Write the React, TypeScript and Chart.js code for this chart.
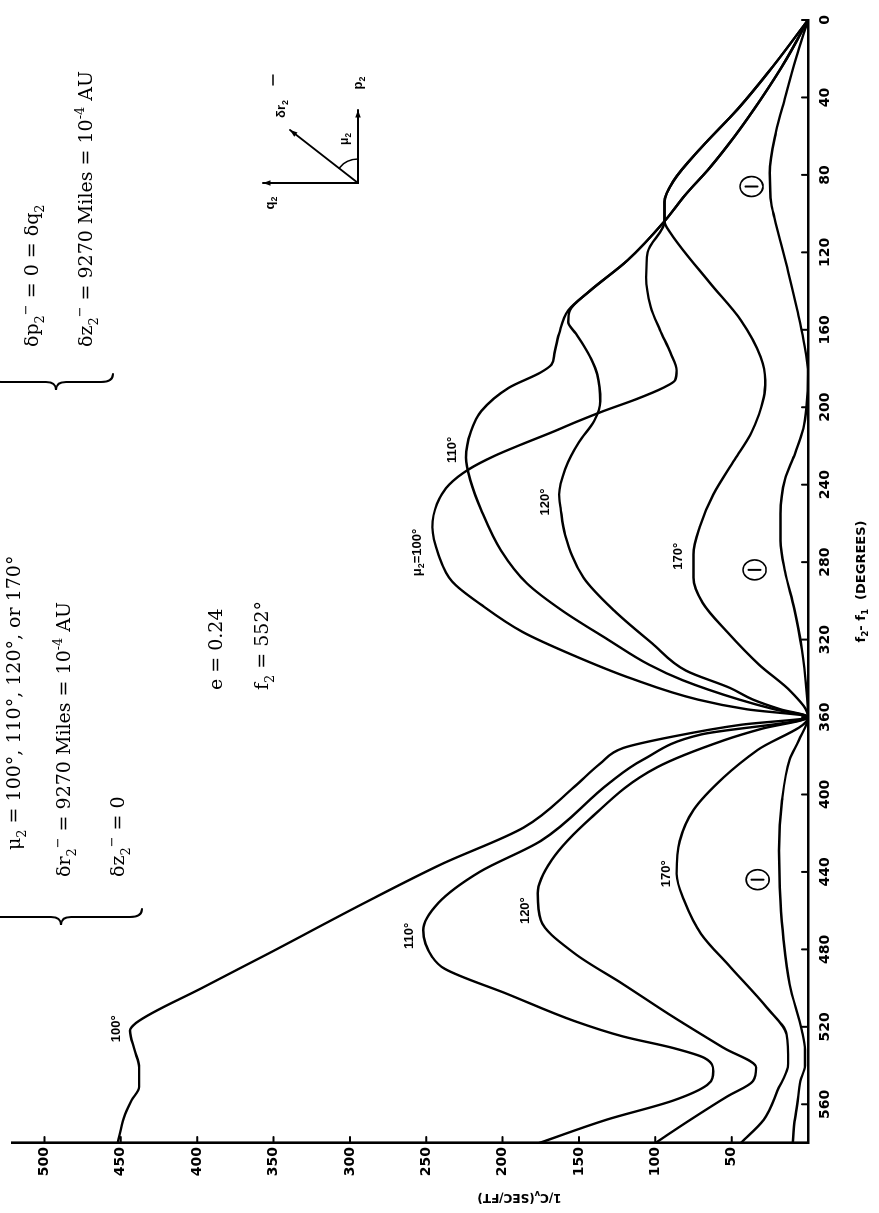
import React, { useEffect, useRef } from "react";
import { Chart, registerables } from "chart.js";

Chart.register(...registerables);

// ---------------- data (f2 - f1 in degrees, 1/Cv in sec/ft) ----------------
const X_TICKS = [0, 40, 80, 120, 160, 200, 240, 280, 320, 360, 400, 440, 480, 520, 560];
const Y_TICKS = [50, 100, 150, 200, 250, 300, 350, 400, 450, 500];

const F_100 = [0, 24, 46, 66, 83, 94, 104, 120, 133, 148, 160, 172, 181, 186, 190, 196, 202, 207, 213, 219, 225, 232, 240, 250, 262, 276, 290, 302, 316, 328, 340, 351, 356, 360, 364, 370, 376, 384, 396, 417, 436, 455, 482, 500, 518, 522, 532, 541, 551, 558, 567, 580];
const V_100 = [0, 23, 46, 70, 88, 94, 94, 105, 106, 103, 97, 90, 86, 87, 95, 113, 134, 150, 168, 187, 205, 222, 235, 243, 246, 242, 233, 214, 187, 154, 116, 72, 40, 0, 44, 88, 121, 136, 153, 186, 240, 288, 353, 397, 440, 444, 441, 438, 438, 443, 448, 452];

const F_110 = [0, 20, 41, 60, 76, 90, 104, 124, 140, 150, 162, 172, 178, 182, 190, 202, 213, 226, 238, 253, 274, 291, 305, 320, 333, 341, 351, 356, 360, 369, 382, 394, 424, 440, 456, 470, 484, 490, 503, 517, 525, 531, 536, 543, 550, 558, 568, 580];
const V_110 = [0, 14, 31, 48, 64, 80, 94, 118, 143, 157, 163, 166, 168, 175, 196, 214, 221, 224, 221, 214, 201, 184, 161, 131, 104, 82, 45, 22, 0, 70, 108, 130, 175, 215, 242, 252, 246, 238, 197, 153, 121, 88, 68, 62, 66, 88, 132, 176];

const F_120 = [0, 20, 41, 60, 76, 90, 104, 124, 140, 150, 156, 162, 168, 175, 183, 197, 207, 218, 232, 245, 252, 266, 288, 305, 322, 336, 345, 351, 356, 360, 366, 372, 386, 412, 434, 451, 465, 482, 498, 515, 531, 541, 548, 556, 568, 580];
const V_120 = [0, 14, 31, 48, 64, 80, 94, 118, 143, 156, 157, 152, 147, 142, 138, 136, 140, 150, 159, 163, 162, 159, 147, 127, 102, 80, 51, 36, 18, 0, 30, 55, 99, 142, 168, 177, 175, 153, 121, 88, 55, 34, 36, 53, 77, 100];

const F_170 = [0, 24, 46, 66, 83, 94, 104, 110, 136, 155, 174, 186, 195, 213, 227, 245, 262, 276, 288, 301, 316, 333, 347, 360, 377, 391, 408, 424, 441, 455, 472, 489, 510, 524, 539, 553, 568, 580];
const V_170 = [0, 23, 46, 70, 88, 94, 94, 90, 64, 44, 31, 28, 29, 37, 48, 62, 71, 75, 75, 69, 53, 32, 11, 0, 33, 55, 75, 84, 86, 81, 70, 51, 27, 14, 13, 20, 29, 44];

// out-of-plane case (curve marked with circled 1)
const F_Z = [0, 20, 40, 58, 79, 95, 102, 130, 150, 165, 183, 200, 211, 225, 237, 255, 269, 285, 304, 325, 346, 360, 372, 382, 403, 429, 455, 475, 498, 522, 532, 540, 548, 560, 570, 580];
const V_Z = [0, 8, 15, 21, 25, 24, 22, 13, 7, 3, 0, 1, 3, 9, 15, 18, 18, 15, 9, 4, 1, 0, 6, 12, 17, 19, 18, 16, 12, 4, 2, 2, 5, 7, 9, 10];

// curve labels placed at (f, value)
const CURVE_LABELS: { text: string; f: number; v: number }[] = [
  { text: "100°", f: 521, v: 453 },
  { text: "110°", f: 473, v: 261 },
  { text: "120°", f: 460, v: 185 },
  { text: "170°", f: 441, v: 93 },
  { text: "110°", f: 222, v: 233 },
  { text: "120°", f: 249, v: 172 },
  { text: "170°", f: 277, v: 85 },
];
const CIRCLED_ONE = [
  { f: 86, v: 37 },
  { f: 284, v: 35 },
  { f: 444, v: 33 },
];

// ---------------- layout ----------------
const W = 1213;
const H = 879;
const SANS = "'DejaVu Sans', 'Liberation Sans', sans-serif";
const LSANS = "'Liberation Sans', Arial, sans-serif";
const SERIF = "'DejaVu Serif', 'Liberation Serif', serif";

type Part = [string, ("n" | "sub" | "sup")?];

function richWidth(ctx: CanvasRenderingContext2D, parts: Part[], size: number, family: string, weight: string) {
  let w = 0;
  for (const [t, m = "n"] of parts) {
    const s = m === "n" ? size : size * 0.68;
    ctx.font = `${weight} ${s}px ${family}`;
    w += ctx.measureText(t).width;
  }
  return w;
}

function drawRich(ctx: CanvasRenderingContext2D, x: number, y: number, parts: Part[], size: number, family: string, weight = "normal", align: "left" | "center" = "left") {
  let cx = x;
  if (align === "center") cx = x - richWidth(ctx, parts, size, family, weight) / 2;
  ctx.textAlign = "left";
  for (const [t, m = "n"] of parts) {
    const s = m === "n" ? size : size * 0.68;
    ctx.font = `${weight} ${s}px ${family}`;
    const dy = m === "sub" ? size * 0.32 : m === "sup" ? -size * 0.42 : 0;
    ctx.fillText(t, cx, y + dy);
    cx += ctx.measureText(t).width;
  }
}

function brace(ctx: CanvasRenderingContext2D, x: number, y0: number, y1: number, ym: number, d: number, e: number) {
  ctx.beginPath();
  ctx.moveTo(x + e, y0);
  ctx.quadraticCurveTo(x, y0, x, y0 + 12);
  ctx.lineTo(x, ym - 10);
  ctx.quadraticCurveTo(x, ym, x - d, ym);
  ctx.quadraticCurveTo(x, ym, x, ym + 10);
  ctx.lineTo(x, y1 - 12);
  ctx.quadraticCurveTo(x, y1, x + e, y1);
  ctx.stroke();
}

function arrow(ctx: CanvasRenderingContext2D, x0: number, y0: number, x1: number, y1: number) {
  ctx.beginPath();
  ctx.moveTo(x0, y0);
  ctx.lineTo(x1, y1);
  ctx.stroke();
  const a = Math.atan2(y1 - y0, x1 - x0);
  const L = 8;
  ctx.beginPath();
  ctx.moveTo(x1, y1);
  ctx.lineTo(x1 - L * Math.cos(a - 0.35), y1 - L * Math.sin(a - 0.35));
  ctx.lineTo(x1 - L * Math.cos(a + 0.35), y1 - L * Math.sin(a + 0.35));
  ctx.closePath();
  ctx.fill();
}

const decor = {
  id: "decor",
  afterDraw(chart: any) {
    const { ctx, chartArea } = chart;
    const xs = chart.scales.x;
    const ys = chart.scales.y;
    ctx.save();
    ctx.fillStyle = "#000";
    ctx.strokeStyle = "#000";
    ctx.lineCap = "round";

    // inward tick marks
    ctx.lineWidth = 2;
    for (const v of X_TICKS) {
      const px = xs.getPixelForValue(v);
      ctx.beginPath();
      ctx.moveTo(px, chartArea.bottom);
      ctx.lineTo(px, chartArea.bottom - 6);
      ctx.stroke();
    }
    for (const v of Y_TICKS) {
      const py = ys.getPixelForValue(v);
      ctx.beginPath();
      ctx.moveTo(chartArea.left, py);
      ctx.lineTo(chartArea.left + 6, py);
      ctx.stroke();
    }

    // axis titles
    ctx.textBaseline = "middle";
    drawRich(ctx, xs.getPixelForValue(290), 862, [["f"], ["2", "sub"], ["- f"], ["1", "sub"], ["  (DEGREES)"]], 13, SANS, "bold", "center");
    ctx.save();
    ctx.translate(16, ys.getPixelForValue(189));
    ctx.rotate(-Math.PI / 2);
    drawRich(ctx, 0, 0, [["1/C"], ["v", "sub"], ["(SEC/FT)"]], 12, SANS, "bold", "center");
    ctx.restore();

    // curve labels
    ctx.textBaseline = "middle";
    for (const l of CURVE_LABELS) {
      drawRich(ctx, xs.getPixelForValue(l.f), ys.getPixelForValue(l.v), [[l.text]], 13, LSANS, "bold", "center");
    }
    drawRich(ctx, xs.getPixelForValue(275), ys.getPixelForValue(256), [["μ"], ["2", "sub"], ["=100°"]], 13, LSANS, "bold", "center");

    // circled 1
    for (const c of CIRCLED_ONE) {
      const px = xs.getPixelForValue(c.f);
      const py = ys.getPixelForValue(c.v);
      ctx.lineWidth = 1.6;
      ctx.beginPath();
      ctx.ellipse(px, py, 10, 11.5, 0, 0, Math.PI * 2);
      ctx.stroke();
      ctx.lineWidth = 2;
      ctx.beginPath();
      ctx.moveTo(px, py - 6);
      ctx.lineTo(px, py + 6);
      ctx.stroke();
    }

    // text blocks
    ctx.textBaseline = "alphabetic";
    ctx.lineWidth = 2;
    const fs = 19;
    drawRich(ctx, 363, 20, [["μ"], ["2", "sub"], [" = 100°, 110°, 120°, or 170°"]], fs, SERIF);
    drawRich(ctx, 336, 70, [["δr"], ["2", "sub"], ["−", "sup"], [" = 9270 Miles = 10"], ["-4", "sup"], [" AU"]], fs, SERIF);
    drawRich(ctx, 336, 124, [["δz"], ["2", "sub"], ["−", "sup"], [" = 0"]], fs, SERIF);
    brace(ctx, 296, -20, 142, 61, 8, 8);

    drawRich(ctx, 866, 38, [["δp"], ["2", "sub"], ["−", "sup"], [" = 0 = δq"], ["2", "sub"]], fs, SERIF);
    drawRich(ctx, 866, 92, [["δz"], ["2", "sub"], ["−", "sup"], [" = 9270 Miles = 10"], ["-4", "sup"], [" AU"]], fs, SERIF);
    brace(ctx, 831, -10, 113, 56, 8, 8);

    drawRich(ctx, 523, 222, [["e = 0.24"]], fs, SERIF);
    drawRich(ctx, 523, 268, [["f"], ["2", "sub"], [" = 552°"]], fs, SERIF);

    // vector diagram
    ctx.lineWidth = 2;
    const ox = 1030, oy = 358;
    arrow(ctx, ox, oy, ox, 263);
    arrow(ctx, ox, oy, 1103, oy);
    arrow(ctx, ox, oy, 1083, 290);
    ctx.lineWidth = 1.5;
    ctx.beginPath();
    ctx.arc(ox, oy, 24, Math.atan2(290 - oy, 1083 - ox), 0);
    ctx.stroke();
    ctx.textBaseline = "middle";
    drawRich(ctx, 1010, 270, [["q"], ["2", "sub"]], 13, LSANS, "bold", "center");
    drawRich(ctx, 1130, 358, [["p"], ["2", "sub"]], 13, LSANS, "bold", "center");
    drawRich(ctx, 1074, 345, [["μ"], ["2", "sub"]], 12, LSANS, "bold", "center");
    drawRich(ctx, 1104, 281, [["δr"], ["2", "sub"]], 13, LSANS, "bold", "center");
    ctx.beginPath();
    ctx.moveTo(1128, 273);
    ctx.lineTo(1138, 273);
    ctx.stroke();

    ctx.restore();
  },
};

function series(F: number[], V: number[]) {
  return {
    data: F.map((f, i) => ({ x: f, y: V[i] })),
    borderColor: "#000",
    borderWidth: 2.4,
    pointRadius: 0,
    fill: false,
    cubicInterpolationMode: "monotone" as const,
  };
}

export default function App() {
  const ref = useRef<HTMLCanvasElement>(null);
  useEffect(() => {
    if (!ref.current) return;
    const chart = new Chart(ref.current, {
      type: "line",
      data: {
        datasets: [
          series(F_100, V_100),
          series(F_110, V_110),
          series(F_120, V_120),
          series(F_170, V_170),
          series(F_Z, V_Z),
        ],
      },
      options: {
        animation: false,
        responsive: false,
        devicePixelRatio: 1,
        layout: { padding: { top: 10, right: 20, left: 0, bottom: 0 } },
        plugins: { legend: { display: false }, tooltip: { enabled: false } },
        scales: {
          x: {
            type: "linear",
            reverse: true,
            min: 0,
            max: 580,
            afterBuildTicks: (s: any) => {
              s.ticks = X_TICKS.map((v) => ({ value: v }));
            },
            afterFit: (s: any) => {
              s.height = 71;
            },
            grid: { display: false, drawTicks: false },
            border: { display: true, color: "#000", width: 2.6 },
            ticks: { padding: 9, color: "#000", autoSkip: false, maxRotation: 0, font: { family: SANS, size: 14, weight: "bold" } },
          },
          y: {
            type: "linear",
            min: 0,
            max: 521,
            afterBuildTicks: (s: any) => {
              s.ticks = Y_TICKS.map((v) => ({ value: v }));
            },
            afterFit: (s: any) => {
              s.width = 70;
            },
            grid: { display: false, drawTicks: false },
            border: { display: true, color: "#000", width: 2.6 },
            ticks: { padding: 4, color: "#000", autoSkip: false, font: { family: SANS, size: 14, weight: "bold" } },
          },
        },
      },
      plugins: [decor],
    } as any);
    return () => chart.destroy();
  }, []);

  return (
    <div style={{ position: "fixed", left: 0, top: 0, width: 879, height: 1213, overflow: "hidden", background: "#fff" }}>
      <div
        style={{
          position: "absolute",
          left: 0,
          top: 0,
          width: W,
          height: H,
          transformOrigin: "0 0",
          transform: `translate(0px, ${W}px) rotate(-90deg)`,
        }}
      >
        <canvas ref={ref} width={W} height={H} style={{ display: "block", width: W, height: H }} />
      </div>
    </div>
  );
}
